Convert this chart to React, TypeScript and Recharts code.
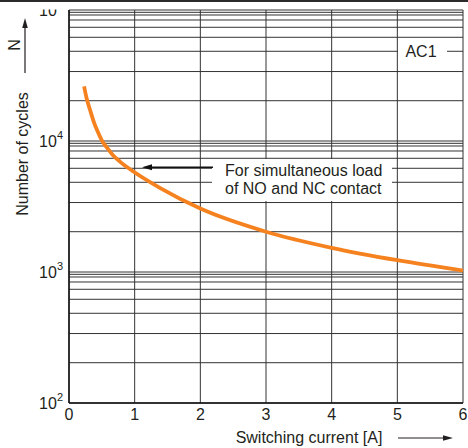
import { CartesianGrid, Line, LineChart, XAxis, YAxis } from "recharts";

// switching current [A] vs number of cycles (AC1)
const currentA = [0.23, 0.27, 0.32, 0.38, 0.44, 0.5, 0.58, 0.67, 0.78, 0.98, 1.39, 2, 3, 4, 5, 6];
const cyclesN = [26100, 21000, 17300, 13900, 11700, 10100, 8870, 7780, 6930, 5850, 4370, 3050, 2030, 1530, 1230, 1025];

const xTicks = [0, 1, 2, 3, 4, 5, 6];
const yDecades = [100, 1000, 10000, 100000];
// minor grid lines inside each decade, as drawn on the sheet
const minorSteps = [2.03, 3.39, 4.84, 6.19, 7.38, 8.39, 9.16, 9.6];

const chartData = currentA.map((a, i) => ({ current: a, cycles: cyclesN[i] }));
const gridY = [
  ...yDecades.slice(0, -1).flatMap((d) => [d, ...minorSteps.map((m) => m * d)]),
  yDecades[yDecades.length - 1],
];

const FONT = '"Liberation Sans", Arial, sans-serif';
const INK = "#231f20";

function PowerTick({ x, y, payload }: any) {
  if (!yDecades.includes(payload.value)) return <g />;
  const exp = Math.round(Math.log10(payload.value));
  return (
    <text x={x} y={y} textAnchor="end" dominantBaseline="central" fontSize={16} fill={INK} fontFamily={FONT}>
      10
      <tspan dy={-6} fontSize={11}>
        {exp}
      </tspan>
    </text>
  );
}

export default function App() {
  return (
    <div style={{ position: "absolute", left: 0, top: 0, width: 468, height: 448, background: "#fff", fontFamily: FONT }}>
      <LineChart width={468} height={448} data={chartData} margin={{ top: 10, right: 5, bottom: 0, left: 0 }}>
        <CartesianGrid stroke="#333" strokeWidth={1} />
        <XAxis
          type="number"
          dataKey="current"
          domain={[0, 6]}
          ticks={xTicks}
          height={45}
          tickLine={false}
          tickSize={2}
          tickMargin={4}
          axisLine={{ stroke: "#111", strokeWidth: 1.5 }}
          tick={{ fontSize: 16, fill: INK, fontFamily: FONT }}
        />
        <YAxis
          type="number"
          scale="log"
          dataKey="cycles"
          domain={[100, 100000]}
          allowDataOverflow
          ticks={gridY}
          interval={0}
          width={69}
          tickLine={false}
          tickSize={4}
          tickMargin={2}
          axisLine={{ stroke: "#111", strokeWidth: 1.5 }}
          tick={<PowerTick />}
        />
        <Line
          type="monotone"
          dataKey="cycles"
          stroke="#f5821f"
          strokeWidth={3.8}
          dot={false}
          isAnimationActive={false}
        />
      </LineChart>

      <svg width={468} height={448} style={{ position: "absolute", left: 0, top: 0, pointerEvents: "none" }}>
        <rect x={0} y={2} width={66} height={7.5} fill="#fff" />
        <rect x={0} y={0} width={468} height={2} fill="#2b2b2b" />

        {/* y title */}
        <text
          x={22}
          y={154}
          transform="rotate(-90 22 154)"
          textAnchor="middle"
          dominantBaseline="central"
          fontSize={16}
          fill={INK}
        >
          Number of cycles
        </text>
        <text x={14} y={45} transform="rotate(-90 14 45)" textAnchor="middle" dominantBaseline="central" fontSize={16} fill={INK}>
          N
        </text>
        <line x1={25} y1={73} x2={25} y2={26} stroke={INK} strokeWidth={1.2} />
        <polygon points="25,18 22.2,28 27.8,28" fill={INK} />

        {/* x title */}
        <text x={309} y={437} textAnchor="middle" dominantBaseline="central" fontSize={16} fill={INK}>
          Switching current [A]
        </text>
        <line x1={398} y1={438} x2={445} y2={438} stroke={INK} strokeWidth={1.2} />
        <polygon points="453,438 443,435.2 443,440.8" fill={INK} />

        {/* AC1 tag */}
        <rect x={398} y={40} width={49} height={22} fill="#fff" />
        <text x={421} y={51} textAnchor="middle" dominantBaseline="central" fontSize={16} fill={INK}>
          AC1
        </text>

        {/* note */}
        <rect x={212} y={159} width={180} height={42} fill="#fff" />
        <text x={225} y={170} dominantBaseline="central" fontSize={16} fill={INK}>
          For simultaneous load
        </text>
        <text x={225} y={188.5} dominantBaseline="central" fontSize={16} fill={INK}>
          of NO and NC contact
        </text>
        <line x1={213} y1={167.3} x2={150} y2={167.3} stroke="#111" strokeWidth={1.5} />
        <polygon points="142,167.3 152,164.3 152,170.3" fill="#111" />
      </svg>
    </div>
  );
}
